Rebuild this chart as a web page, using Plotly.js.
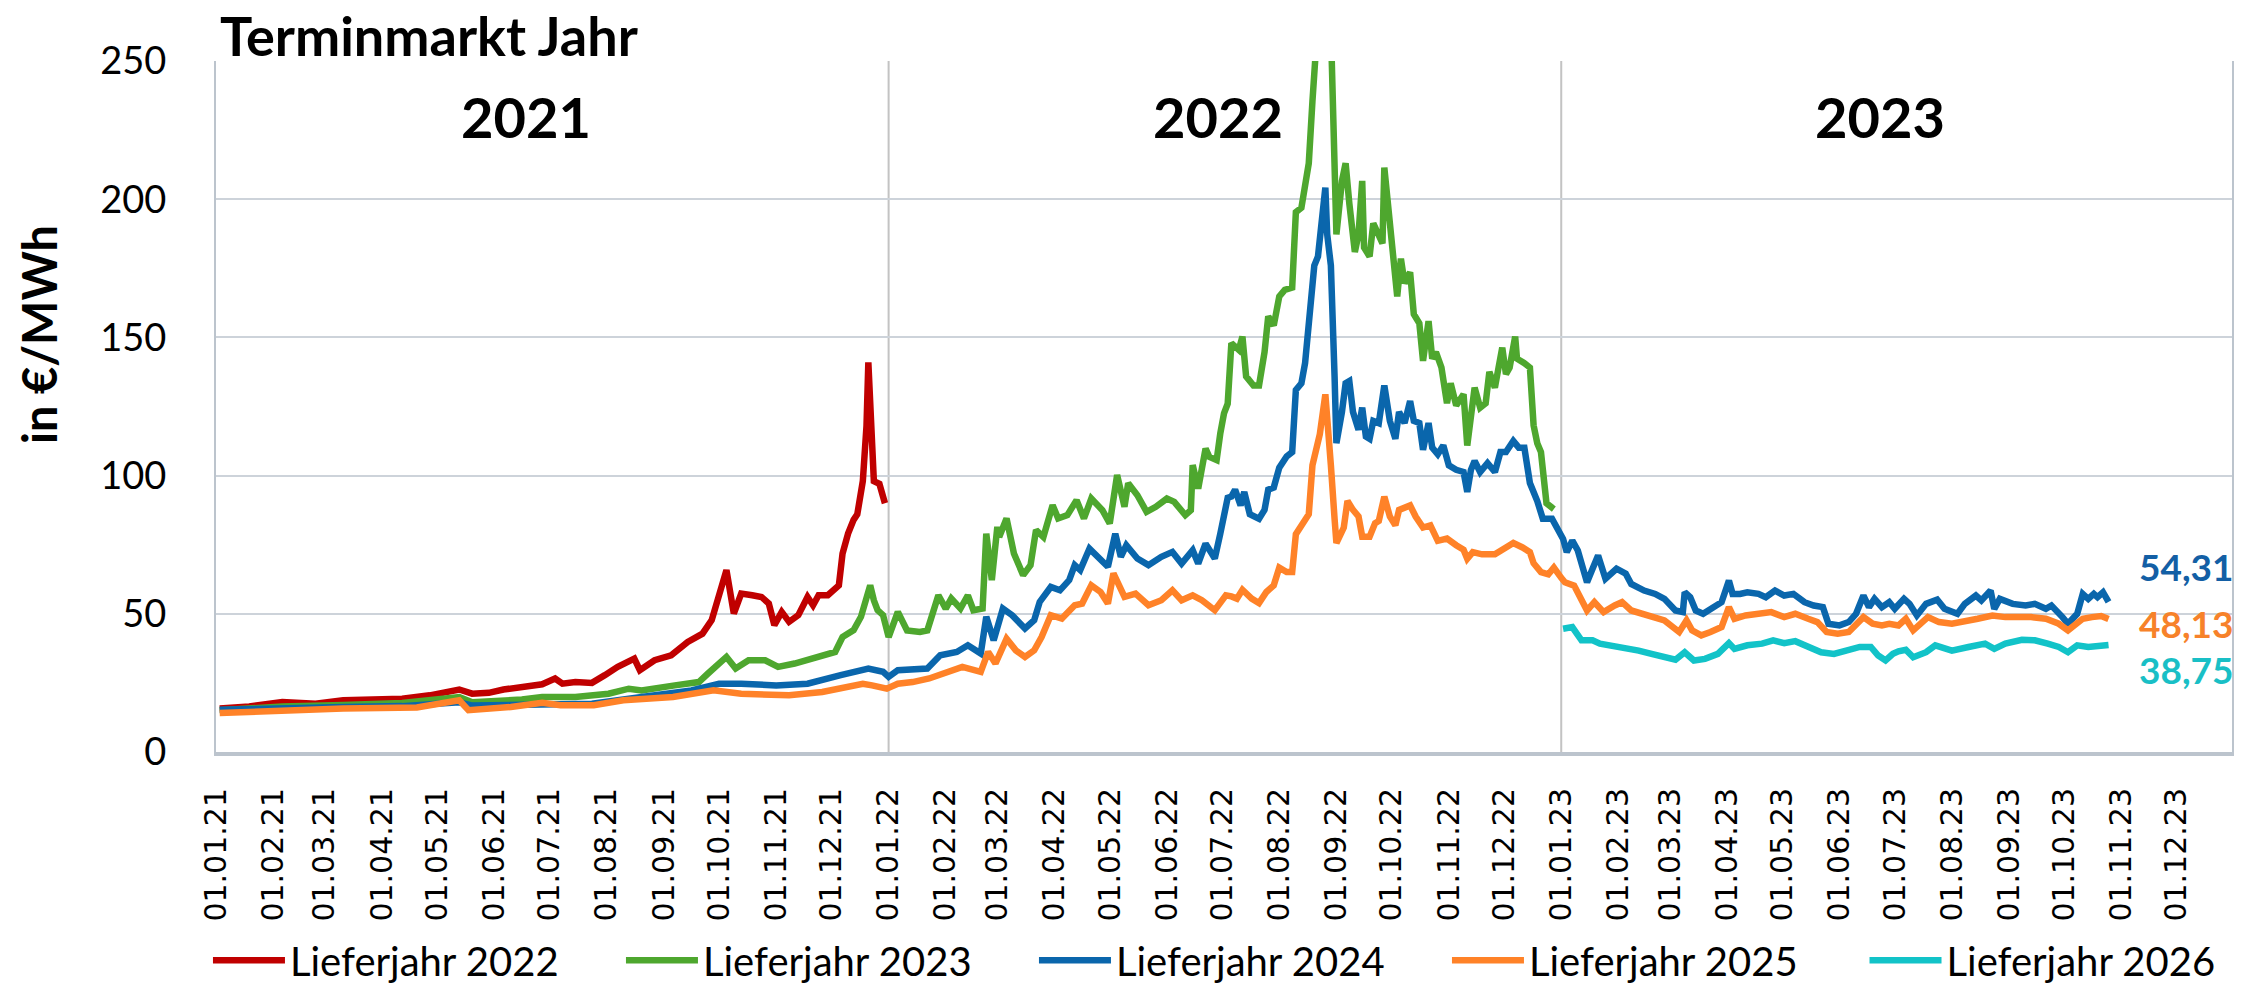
<!DOCTYPE html>
<html>
<head>
<meta charset="utf-8">
<script src="https://cdn.plot.ly/plotly-3.0.1.min.js"></script>
<style>html,body{margin:0;padding:0;background:#fff}#chart{width:2241px;height:989px}</style>
</head>
<body>
<div id="chart"></div>
<script>
// ---------- DATA ----------
const seriesNames = ['Lieferjahr 2022', 'Lieferjahr 2023', 'Lieferjahr 2024', 'Lieferjahr 2025', 'Lieferjahr 2026'];
const seriesColors = ['#C00000', '#4EA72E', '#0A66AC', '#FF8228', '#12C3C8'];
const labelColors = ['#C00000', '#4EA72E', '#135FA5', '#F7822A', '#19BFC6'];

const dates2022 = ['2021-01-03','2021-01-19','2021-02-06','2021-02-24','2021-03-11','2021-03-29','2021-04-12','2021-04-27','2021-05-08','2021-05-13','2021-05-20','2021-05-29','2021-06-06','2021-06-16','2021-06-27','2021-07-04','2021-07-08','2021-07-15','2021-07-24','2021-07-31','2021-08-07','2021-08-16','2021-08-19','2021-08-27','2021-09-05','2021-09-14','2021-09-22','2021-09-27','2021-10-01','2021-10-05','2021-10-09','2021-10-13','2021-10-19','2021-10-24','2021-10-28','2021-10-31','2021-11-04','2021-11-08','2021-11-13','2021-11-18','2021-11-21','2021-11-24','2021-11-29','2021-12-05','2021-12-07','2021-12-10','2021-12-13','2021-12-15','2021-12-18','2021-12-20','2021-12-21','2021-12-23','2021-12-24','2021-12-27','2021-12-29','2021-12-30'];
const values2022 = [15.7,16.5,18.1,17.5,18.7,18.9,19.3,20.5,21.7,22.6,21.1,21.4,22.6,23.3,24.5,26.6,24.7,25.3,25.0,27.8,30.8,33.8,29.6,33.2,35.0,39.8,42.8,47.7,57.9,65.8,50.1,57.3,56.7,56.1,53.7,45.9,50.7,47.1,49.5,56.1,53.1,56.7,56.7,60.3,71.8,79.0,84.0,86.0,98.0,118.0,141.0,118.0,98.0,97.0,92.0,90.0];

const dates2023 = ['2021-01-03','2021-02-06','2021-03-11','2021-04-12','2021-05-13','2021-05-20','2021-06-16','2021-06-27','2021-07-15','2021-08-02','2021-08-13','2021-08-20','2021-09-07','2021-09-20','2021-09-25','2021-10-01','2021-10-05','2021-10-10','2021-10-17','2021-10-26','2021-11-02','2021-11-11','2021-11-18','2021-11-26','2021-12-03','2021-12-07','2021-12-13','2021-12-17','2021-12-22','2021-12-24','2021-12-26','2021-12-29',
'2022-01-01','2022-01-06','2022-01-11','2022-01-18','2022-01-22','2022-01-28','2022-02-01','2022-02-04','2022-02-09','2022-02-13','2022-02-16','2022-02-21','2022-02-23','2022-02-26','2022-03-01','2022-03-02','2022-03-06','2022-03-10','2022-03-15','2022-03-19','2022-03-22','2022-03-26','2022-03-31','2022-04-03','2022-04-08','2022-04-13','2022-04-17','2022-04-21','2022-04-27','2022-05-01','2022-05-05','2022-05-09','2022-05-11','2022-05-16','2022-05-21','2022-05-26','2022-06-01','2022-06-05','2022-06-11','2022-06-14','2022-06-15','2022-06-18','2022-06-22','2022-06-24','2022-06-28','2022-06-30','2022-07-02','2022-07-04',
'2022-07-06','2022-07-10','2022-07-12','2022-07-14','2022-07-18','2022-07-21','2022-07-24','2022-07-26','2022-07-29','2022-08-01','2022-08-04','2022-08-08','2022-08-10','2022-08-13','2022-08-17','2022-08-19','2022-08-22','2022-08-26','2022-08-29','2022-08-31','2022-09-01','2022-09-04','2022-09-06','2022-09-08','2022-09-11','2022-09-13','2022-09-15','2022-09-16','2022-09-19','2022-09-21','2022-09-24','2022-09-26','2022-09-27','2022-09-30','2022-10-04','2022-10-06','2022-10-08','2022-10-11','2022-10-13','2022-10-16','2022-10-18','2022-10-21','2022-10-23','2022-10-25','2022-10-28','2022-10-31','2022-11-02','2022-11-05','2022-11-09','2022-11-11','2022-11-13','2022-11-15','2022-11-18','2022-11-21','2022-11-23','2022-11-26','2022-11-28','2022-11-30','2022-12-02','2022-12-04','2022-12-07','2022-12-08','2022-12-12','2022-12-15','2022-12-17','2022-12-19','2022-12-21','2022-12-24','2022-12-27','2022-12-28'];
const values2023 = [15.1,16.5,17.0,17.7,19.9,18.0,19.0,19.9,19.9,21.1,22.9,22.3,24.1,25.3,28.4,32.0,34.4,30.2,33.2,33.2,30.8,32.0,33.2,35.0,36.2,41.6,44.1,48.9,60.3,54.9,51.3,49.5,
41.6,50.7,44.0,43.4,44.0,56.7,51.9,55.5,51.9,56.7,51.3,51.9,79.0,62.2,81.5,77.8,84.5,71.8,64.0,67.6,80.3,77.8,89.3,84.5,85.7,91.1,84.5,91.7,87.5,82.7,100.2,88.7,97.2,92.9,86.9,88.7,91.7,90.5,85.7,87.5,103.8,95.3,109.8,106.8,105.6,115.3,122.5,126.0,
147.9,145.5,150.3,135.9,132.6,132.6,144.7,157.6,154.3,164.8,167.2,168.0,195.3,196.9,213.0,235.5,262.0,305.0,262.0,211.0,187.3,206.6,213.0,198.5,180.9,187.3,206.6,182.5,179.3,191.3,187.3,184.0,211.4,190.5,164.8,178.5,169.6,173.6,158.4,155.1,141.5,155.9,142.3,144.7,139.1,126.2,133.4,125.4,129.4,110.9,123.0,131.8,124.6,126.2,137.5,131.8,139.1,146.3,136.7,139.1,150.3,142.3,140.7,139.1,118.2,111.7,108.5,90.0,88.4,87.9];

const dates2024 = ['2021-01-03','2021-02-06','2021-03-11','2021-04-12','2021-05-13','2021-05-20','2021-06-16','2021-06-27','2021-07-24','2021-08-20','2021-09-16','2021-10-01','2021-10-13','2021-11-01','2021-11-18','2021-12-06','2021-12-21','2021-12-29',
'2022-01-01','2022-01-06','2022-01-22','2022-01-29','2022-02-07','2022-02-13','2022-02-20','2022-02-23','2022-02-27','2022-03-04','2022-03-09','2022-03-16','2022-03-21','2022-03-24','2022-03-30','2022-04-04','2022-04-09','2022-04-12','2022-04-15','2022-04-20','2022-04-25','2022-04-30','2022-05-04','2022-05-07','2022-05-10','2022-05-16','2022-05-22','2022-05-29','2022-06-04','2022-06-09','2022-06-15','2022-06-18','2022-06-22','2022-06-27','2022-06-30','2022-07-04',
'2022-07-06','2022-07-08','2022-07-11','2022-07-13','2022-07-16','2022-07-21','2022-07-24','2022-07-26','2022-07-29','2022-08-01','2022-08-05','2022-08-08','2022-08-10','2022-08-13','2022-08-15','2022-08-19','2022-08-20','2022-08-22','2022-08-23','2022-08-26','2022-08-27','2022-08-29','2022-08-31','2022-09-01','2022-09-04','2022-09-06','2022-09-08','2022-09-10','2022-09-13','2022-09-15','2022-09-17','2022-09-19','2022-09-21','2022-09-24','2022-09-27','2022-09-30','2022-10-03','2022-10-05','2022-10-08','2022-10-11','2022-10-13','2022-10-16','2022-10-18','2022-10-21','2022-10-23','2022-10-26','2022-10-29','2022-11-01','2022-11-05','2022-11-09','2022-11-11','2022-11-13','2022-11-15','2022-11-18','2022-11-22','2022-11-26','2022-11-29','2022-12-02','2022-12-06','2022-12-09','2022-12-12','2022-12-15','2022-12-19','2022-12-22','2022-12-27','2022-12-30',
'2023-01-02','2023-01-04','2023-01-07','2023-01-10','2023-01-15','2023-01-18','2023-01-21','2023-01-25','2023-01-31','2023-02-05','2023-02-08','2023-02-15','2023-02-21','2023-02-26','2023-03-04','2023-03-08','2023-03-09','2023-03-12','2023-03-15','2023-03-19','2023-03-24','2023-03-29','2023-04-02','2023-04-04','2023-04-08','2023-04-12','2023-04-18','2023-04-22','2023-04-27','2023-05-02','2023-05-07','2023-05-13','2023-05-18','2023-05-23','2023-05-26','2023-06-01','2023-06-06','2023-06-10','2023-06-14','2023-06-17','2023-06-20','2023-06-24','2023-06-28','2023-07-01','2023-07-06','2023-07-09','2023-07-13','2023-07-18','2023-07-24','2023-07-28','2023-08-04','2023-08-08','2023-08-14','2023-08-17','2023-08-22','2023-08-24','2023-08-27','2023-09-03','2023-09-10','2023-09-15','2023-09-21','2023-09-24','2023-09-30','2023-10-03','2023-10-08','2023-10-11','2023-10-14','2023-10-17','2023-10-19','2023-10-22','2023-10-25'];
const values2024 = [15.3,16.0,16.3,16.6,18.0,16.8,17.0,16.9,17.5,19.9,22.3,24.7,24.7,24.1,24.7,27.8,30.2,29.0,
27.2,29.6,30.2,35.0,36.2,38.6,35.6,48.9,40.4,51.9,49.5,44.7,47.7,54.3,59.7,58.5,62.2,67.6,65.8,73.6,70.0,67.0,79.0,70.6,74.8,70.0,67.6,70.6,72.4,68.2,73.0,68.2,75.4,70.0,79.0,92.0,
92.4,94.9,89.2,94.1,86.0,84.4,87.6,94.9,95.7,102.9,106.9,108.5,131.0,133.4,140.7,166.4,176.0,179.3,185.7,204.2,187.3,176.0,135.9,111.7,123.0,133.4,134.2,123.0,116.6,124.6,114.1,113.3,119.8,119.0,132.6,119.8,113.3,123.0,119.0,127.0,119.8,119.0,109.3,119.0,110.1,107.7,110.9,103.7,102.1,101.3,94.1,102.1,105.3,101.3,104.5,101.3,108.5,108.5,112.5,110.1,110.1,97.3,90.8,84.4,84.4,81.2,
77.1,72.3,76.5,72.9,61.4,66.3,71.1,62.7,66.3,64.5,60.8,58.4,57.2,55.4,51.2,50.6,57.8,56.0,51.2,50.0,52.4,54.2,62.0,57.2,57.2,57.8,57.2,56.0,58.4,56.6,57.2,54.2,53.0,52.4,46.4,45.8,47.0,50.0,56.6,52.4,55.4,52.4,54.2,51.8,55.4,53.6,49.4,53.6,55.1,51.8,50.0,53.6,56.6,54.8,58.4,51.8,55.4,53.6,53.0,53.6,51.8,53.0,48.8,46.4,50.0,57.2,55.4,57.2,56.0,57.8,54.31];

const dates2025 = ['2021-01-03','2021-02-06','2021-03-11','2021-04-20','2021-05-13','2021-05-18','2021-06-10','2021-06-27','2021-07-07','2021-07-25','2021-08-10','2021-09-06','2021-09-28','2021-10-13','2021-11-08','2021-11-26','2021-12-18','2021-12-23','2021-12-31',
'2022-01-06','2022-01-14','2022-01-23','2022-02-01','2022-02-10','2022-02-20','2022-02-24','2022-02-28','2022-03-06','2022-03-11','2022-03-16','2022-03-21','2022-03-25','2022-03-30','2022-04-05','2022-04-12','2022-04-16','2022-04-21','2022-04-26','2022-04-30','2022-05-03','2022-05-09','2022-05-15','2022-05-22','2022-05-29','2022-06-04','2022-06-09','2022-06-15','2022-06-20','2022-06-27','2022-07-03',
'2022-07-06','2022-07-09','2022-07-12','2022-07-17','2022-07-21','2022-07-25','2022-07-29','2022-08-01','2022-08-05','2022-08-08','2022-08-10','2022-08-14','2022-08-17','2022-08-19','2022-08-22','2022-08-23','2022-08-26','2022-08-27','2022-08-29','2022-08-31','2022-09-01','2022-09-05','2022-09-07','2022-09-10','2022-09-13','2022-09-15','2022-09-19','2022-09-22','2022-09-24','2022-09-27','2022-09-30','2022-10-03','2022-10-05','2022-10-11','2022-10-14','2022-10-18','2022-10-22','2022-10-26','2022-10-31','2022-11-05','2022-11-09','2022-11-11','2022-11-14','2022-11-19','2022-11-26','2022-12-02','2022-12-06','2022-12-11','2022-12-15','2022-12-17','2022-12-21','2022-12-25','2022-12-28',
'2023-01-01','2023-01-03','2023-01-08','2023-01-15','2023-01-19','2023-01-24','2023-01-30','2023-02-03','2023-02-08','2023-02-15','2023-02-21','2023-02-26','2023-03-06','2023-03-10','2023-03-13','2023-03-18','2023-03-23','2023-03-29','2023-04-02','2023-04-05','2023-04-11','2023-04-18','2023-04-25','2023-05-02','2023-05-08','2023-05-15','2023-05-20','2023-05-25','2023-05-31','2023-06-06','2023-06-10','2023-06-14','2023-06-19','2023-06-24','2023-06-28','2023-07-03','2023-07-07','2023-07-11','2023-07-19','2023-07-25','2023-08-01','2023-08-08','2023-08-15','2023-08-23','2023-08-30','2023-09-06','2023-09-13','2023-09-21','2023-09-28','2023-10-03','2023-10-07','2023-10-11','2023-10-16','2023-10-21','2023-10-25'];
const values2025 = [14.1,15.1,15.7,16.1,18.7,15.1,16.3,17.8,16.9,16.9,18.7,19.9,22.3,21.1,20.5,21.7,24.7,24.1,22.9,
24.7,25.3,26.6,28.4,30.8,29.0,36.2,32.0,41.0,36.8,34.4,36.8,41.6,49.5,48.3,53.1,53.7,60.3,57.9,53.7,64.6,56.1,57.3,53.1,54.9,58.5,54.9,56.7,54.9,51.3,56.7,
56.3,55.5,58.7,55.5,53.9,57.9,60.3,66.7,65.1,65.1,78.8,82.8,86.0,103.7,114.1,115.0,129.4,118.2,103.7,84.4,75.6,81.2,90.8,87.6,85.2,77.9,77.9,82.8,83.6,92.4,85.2,82.0,87.6,89.2,85.2,81.2,82.0,76.4,77.2,74.8,73.2,69.9,72.3,71.5,71.5,74.0,75.6,74.0,72.3,68.3,65.1,64.3,66.7,
63.0,61.4,60.2,51.2,54.2,50.6,53.0,54.2,51.2,50.0,48.8,47.6,43.4,47.6,44.0,42.2,43.4,45.2,52.4,48.2,49.4,50.0,50.6,48.8,50.0,48.2,47.0,43.4,42.8,43.4,45.8,48.8,46.4,45.8,46.4,45.8,48.2,44.0,48.8,47.0,46.4,47.6,48.2,49.4,48.8,48.8,48.8,48.2,46.4,44.0,46.4,48.2,48.8,49.2,48.13];

const dates2026 = ['2023-01-02','2023-01-07','2023-01-12','2023-01-18','2023-01-22','2023-01-27','2023-02-05','2023-02-12','2023-02-19','2023-02-26','2023-03-04','2023-03-09','2023-03-14','2023-03-20','2023-03-27','2023-04-02','2023-04-05','2023-04-12','2023-04-20','2023-04-26','2023-05-02','2023-05-08','2023-05-15','2023-05-22','2023-05-29','2023-06-04','2023-06-12','2023-06-18','2023-06-22','2023-06-26','2023-06-30','2023-07-03','2023-07-07','2023-07-11','2023-07-18','2023-07-23','2023-08-01','2023-08-10','2023-08-19','2023-08-24','2023-08-30','2023-09-08','2023-09-15','2023-09-22','2023-09-28','2023-10-03','2023-10-08','2023-10-14','2023-10-19','2023-10-25'];
const values2026 = [44.6,45.2,40.4,40.4,39.2,38.6,38.0,36.7,35.5,34.3,33.4,36.1,33.1,33.7,35.5,39.4,37.3,38.6,39.2,40.4,39.4,40.1,38.0,36.1,35.5,36.7,38.0,38.0,34.9,33.1,35.5,36.4,37.0,34.3,36.1,38.6,36.7,38.0,39.2,37.3,39.2,40.6,40.4,39.2,38.0,36.1,38.6,38.0,38.6,38.75];

const tickLabels = ['01.01.21','01.02.21','01.03.21','01.04.21','01.05.21','01.06.21','01.07.21','01.08.21','01.09.21','01.10.21','01.11.21','01.12.21',
'01.01.22','01.02.22','01.03.22','01.04.22','01.05.22','01.06.22','01.07.22','01.08.22','01.09.22','01.10.22','01.11.22','01.12.22',
'01.01.23','01.02.23','01.03.23','01.04.23','01.05.23','01.06.23','01.07.23','01.08.23','01.09.23','01.10.23','01.11.23','01.12.23'];
const yTicks = [0, 50, 100, 150, 200, 250];
const yearLabels = ['2021', '2022', '2023'];
const yearLabelDates = ['2021-06-18', '2022-06-29', '2023-06-23'];
const yearStarts = ['2022-01-01', '2023-01-01'];
const endLabelSeries = [2, 3, 4];
const endLabelShift = [35, -5, -25];
const legendIds = ['legend', 'legend', 'legend', 'legend', 'legend2'];

// ---------- BUILD ----------
const allDates = [dates2022, dates2023, dates2024, dates2025, dates2026];
const allValues = [values2022, values2023, values2024, values2025, values2026];
const tickVals = tickLabels.map(function (l) { const p = l.split('.'); return '20' + p[2] + '-' + p[1] + '-' + p[0]; });

const traces = seriesNames.map(function (name, i) {
  return {
    type: 'scatter', mode: 'lines', name: name,
    x: allDates[i], y: allValues[i],
    line: { color: seriesColors[i], width: 6.5 },
    legend: legendIds[i],
    hoverinfo: 'x+y+name'
  };
});

const annotations = [];
yearLabels.forEach(function (t, i) {
  annotations.push({ xref: 'x', yref: 'y', x: yearLabelDates[i], y: 229.8, text: t, showarrow: false,
    xanchor: 'center', yanchor: 'middle', font: { family: 'Lato', size: 56, color: '#000', weight: 700 } });
});
endLabelSeries.forEach(function (s, k) {
  const xs = allDates[s], ys = allValues[s];
  const v = ys[ys.length - 1];
  annotations.push({ xref: 'x', yref: 'y', x: xs[xs.length - 1], y: v,
    text: v.toFixed(2).replace('.', ','), showarrow: false, xanchor: 'left', yanchor: 'middle',
    xshift: 28, yshift: endLabelShift[k], font: { family: 'Lato', size: 37, color: labelColors[s], weight: 700 } });
});
annotations.push({ xref: 'paper', yref: 'paper', x: -0.0878, y: 0.605, text: 'in €/MWh', textangle: -90,
  showarrow: false, xanchor: 'center', yanchor: 'middle', font: { family: 'Lato', size: 47, color: '#000', weight: 700 } });

const shapes = yearStarts.map(function (d) {
  return { type: 'line', xref: 'x', yref: 'paper', x0: d, x1: d, y0: 0, y1: 1, line: { color: '#C3C3C3', width: 2 }, layer: 'below' };
});

const legendBase = {
  orientation: 'h', xref: 'container', xanchor: 'left', yref: 'container', y: 0.029, yanchor: 'middle',
  font: { family: 'Lato', size: 40, color: '#000' },
  itemwidth: 72, bgcolor: 'rgba(0,0,0,0)', traceorder: 'normal'
};

const layout = {
  width: 2241, height: 989,
  margin: { l: 216, r: 9, t: 61, b: 237 },
  paper_bgcolor: '#FFFFFF', plot_bgcolor: '#FFFFFF',
  title: { text: 'Terminmarkt Jahr', xref: 'paper', x: 0.002, xanchor: 'left', yref: 'container', y: 0.962, yanchor: 'middle',
    font: { family: 'Lato', size: 54, color: '#000', weight: 700 } },
  xaxis: {
    type: 'date', range: ['2021-01-01', '2023-12-31'],
    tickmode: 'array', tickvals: tickVals, ticktext: tickLabels, tickangle: -90,
    tickfont: { family: 'DejaVu Sans', size: 30, color: '#000' },
    ticks: '', ticklabelstandoff: 20,
    showgrid: false, zeroline: false,
    showline: true, linecolor: '#BCC4CD', linewidth: 4
  },
  yaxis: {
    range: [0, 250], tickmode: 'array', tickvals: yTicks, ticktext: yTicks.map(String),
    tickfont: { family: 'Lato', size: 38, color: '#000' },
    ticks: '', ticklabelstandoff: 40,
    showgrid: true, gridcolor: '#CDD3DA', gridwidth: 2, zeroline: false,
    showline: true, mirror: true, linecolor: '#BCC4CD', linewidth: 2
  },
  showlegend: true,
  legend: Object.assign({}, legendBase, { x: 0.0928, entrywidth: 326, entrywidthmode: 'pixels' }),
  legend2: Object.assign({}, legendBase, { x: 0.832 }),
  annotations: annotations,
  shapes: shapes,
  hovermode: 'closest'
};

Plotly.newPlot('chart', traces, layout, { displayModeBar: false, staticPlot: true });
</script>
</body>
</html>
